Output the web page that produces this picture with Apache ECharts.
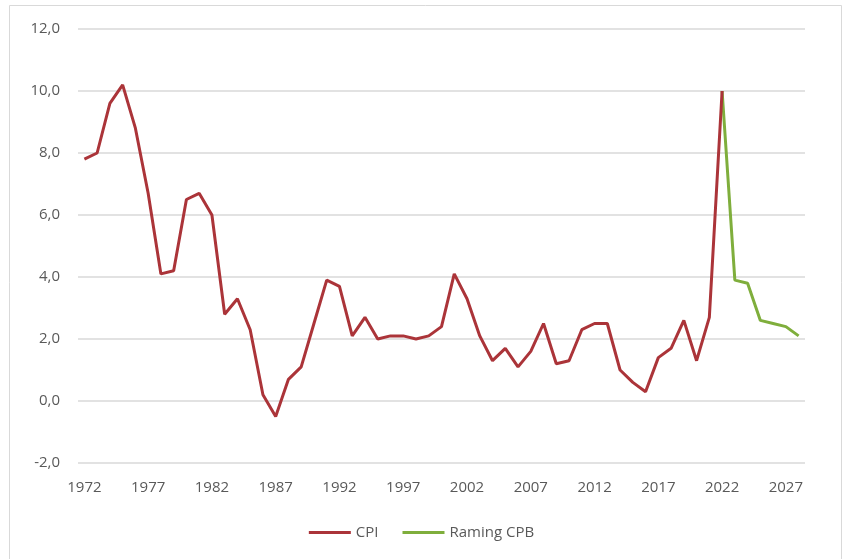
<!DOCTYPE html>
<html>
<head>
<meta charset="utf-8">
<script src="https://cdn.jsdelivr.net/npm/echarts@6/dist/echarts.min.js"></script>
<style>
html,body{margin:0;padding:0;background:#fff;}
#chart{width:843px;height:559px;}
</style>
</head>
<body>
<div id="chart"></div>
<script>
const years = [];
for (let y = 1972; y <= 2028; y++) years.push(String(y));

const cpi = [7.8, 8.0, 9.6, 10.2, 8.8, 6.7, 4.1, 4.2, 6.5, 6.7,
  6.0, 2.8, 3.3, 2.3, 0.2, -0.5, 0.7, 1.1, 2.5, 3.9,
  3.7, 2.1, 2.7, 2.0, 2.1, 2.1, 2.0, 2.1, 2.4, 4.1,
  3.3, 2.1, 1.3, 1.7, 1.1, 1.6, 2.5, 1.2, 1.3, 2.3,
  2.5, 2.5, 1.0, 0.6, 0.3, 1.4, 1.7, 2.6, 1.3, 2.7,
  10.0, null, null, null, null, null, null];

const ramingCPB = [null, null, null, null, null, null, null, null, null, null,
  null, null, null, null, null, null, null, null, null, null,
  null, null, null, null, null, null, null, null, null, null,
  null, null, null, null, null, null, null, null, null, null,
  null, null, null, null, null, null, null, null, null, null,
  10.0, 3.9, 3.8, 2.6, 2.5, 2.4, 2.1];

const seriesNames = ['CPI', 'Raming CPB'];

const chart = echarts.init(document.getElementById('chart'));
const font = 'Open Sans, Liberation Sans, sans-serif';
chart.setOption({
  animation: false,
  backgroundColor: '#fff',
  graphic: [{
    type: 'rect',
    shape: {x: 9.5, y: 5.5, width: 832, height: 560},
    style: {fill: 'none', stroke: '#d9d9d9', lineWidth: 1}
  }],
  grid: {left: 78, right: 38, top: 29, bottom: 96, containLabel: false},
  legend: {
    bottom: 14,
    left: 'center',
    icon: 'rect',
    itemWidth: 42,
    itemHeight: 3,
    itemGap: 24,
    textStyle: {color: '#595959', fontSize: 15, fontFamily: font},
    data: seriesNames
  },
  xAxis: {
    type: 'category',
    data: years,
    boundaryGap: true,
    axisLine: {show: false},
    axisTick: {show: false},
    axisLabel: {
      interval: 4,
      color: '#595959',
      fontSize: 15,
      fontFamily: font,
      margin: 17
    },
    splitLine: {show: false}
  },
  yAxis: {
    type: 'value',
    min: -2,
    max: 12,
    interval: 2,
    axisLine: {show: false},
    axisTick: {show: false},
    axisLabel: {
      color: '#595959',
      fontSize: 15,
      fontFamily: font,
      margin: 18,
      formatter: v => v.toFixed(1).replace('.', ',')
    },
    splitLine: {lineStyle: {color: '#d9d9d9', width: 1.5}}
  },
  series: [
    {
      name: seriesNames[0],
      type: 'line',
      data: cpi,
      symbol: 'none',
      connectNulls: false,
      lineStyle: {color: '#ab3439', width: 3},
      itemStyle: {color: '#ab3439'},
      z: 3
    },
    {
      name: seriesNames[1],
      type: 'line',
      data: ramingCPB,
      symbol: 'none',
      connectNulls: false,
      lineStyle: {color: '#7fae3c', width: 3},
      itemStyle: {color: '#7fae3c'},
      z: 2
    }
  ]
});
</script>
</body>
</html>
